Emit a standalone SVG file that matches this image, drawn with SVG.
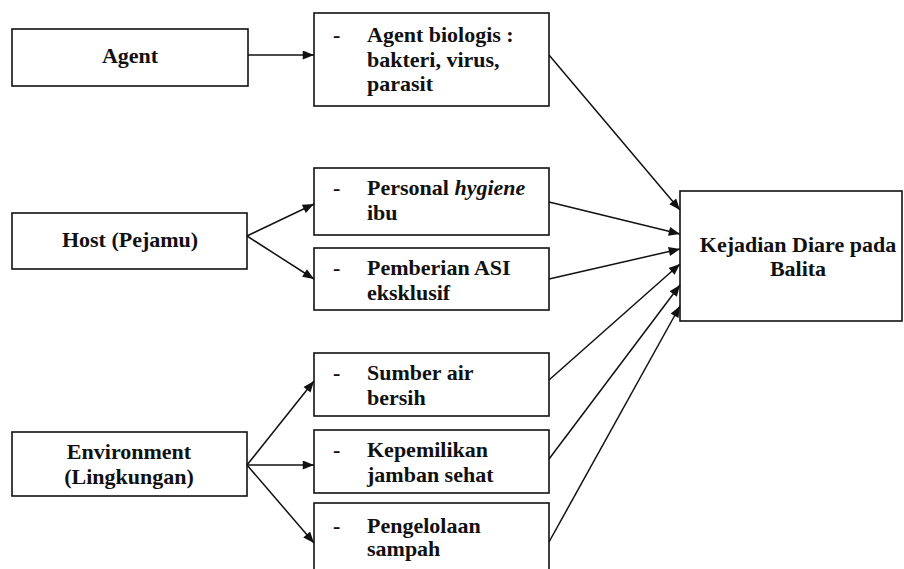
<svg xmlns="http://www.w3.org/2000/svg" width="904" height="569" viewBox="0 0 904 569">
<style>
.box{fill:#fff;stroke:#111;stroke-width:1.6}
.t{font-family:"Liberation Serif","Times New Roman",serif;font-weight:bold;font-size:22px;fill:#111}
.c{text-anchor:middle}
.ln{stroke:#111;stroke-width:1.5;fill:none;marker-end:url(#ah)}
</style>
<defs>
<marker id="ah" viewBox="0 0 10 8" refX="10" refY="4" markerWidth="12" markerHeight="9" markerUnits="userSpaceOnUse" orient="auto">
<path d="M0,0 L10,4 L0,8 Z" fill="#111"/>
</marker>
</defs>
<rect width="904" height="569" fill="#fff"/>
<g id="agent">
<rect class="box" x="12" y="29" width="236" height="57"/>
<text class="t c" x="130" y="63">Agent</text>
</g>
<g id="host">
<rect class="box" x="12" y="213" width="235" height="56"/>
<text class="t c" x="130" y="247">Host (Pejamu)</text>
</g>
<g id="environment">
<rect class="box" x="12" y="432" width="235" height="64"/>
<text class="t c" x="129" y="459">Environment</text>
<text class="t c" x="129" y="484">(Lingkungan)</text>
</g>
<g id="agent-biologis">
<rect class="box" x="314" y="13" width="235" height="93"/>
<text class="t" x="333" y="42">-</text>
<text class="t" x="367" y="42">Agent biologis :</text>
<text class="t" x="367" y="67">bakteri, virus,</text>
<text class="t" x="367" y="91">parasit</text>
</g>
<g id="personal-hygiene">
<rect class="box" x="314" y="168" width="235" height="67"/>
<text class="t" x="333" y="195">-</text>
<text class="t" x="367" y="195">Personal <tspan font-style="italic">hygiene</tspan></text>
<text class="t" x="367" y="220">ibu</text>
</g>
<g id="pemberian-asi">
<rect class="box" x="314" y="248" width="235" height="62"/>
<text class="t" x="333" y="275">-</text>
<text class="t" x="367" y="275">Pemberian ASI</text>
<text class="t" x="367" y="300">eksklusif</text>
</g>
<g id="sumber-air">
<rect class="box" x="314" y="353" width="235" height="63"/>
<text class="t" x="333" y="380">-</text>
<text class="t" x="367" y="380">Sumber air</text>
<text class="t" x="367" y="405">bersih</text>
</g>
<g id="kepemilikan-jamban">
<rect class="box" x="314" y="430" width="235" height="63"/>
<text class="t" x="333" y="457">-</text>
<text class="t" x="367" y="457">Kepemilikan</text>
<text class="t" x="367" y="482">jamban sehat</text>
</g>
<g id="pengelolaan-sampah">
<rect class="box" x="314" y="503" width="235" height="80"/>
<text class="t" x="333" y="533">-</text>
<text class="t" x="367" y="533">Pengelolaan</text>
<text class="t" x="367" y="556">sampah</text>
</g>
<g id="kejadian-diare">
<rect class="box" x="680" y="191" width="222" height="130"/>
<text class="t c" x="798" y="252">Kejadian Diare pada</text>
<text class="t c" x="798" y="276">Balita</text>
</g>
<g id="connectors">
<line class="ln" x1="248" y1="55" x2="314" y2="55"/>
<line class="ln" x1="247" y1="236" x2="314" y2="204"/>
<line class="ln" x1="247" y1="236" x2="314" y2="279"/>
<line class="ln" x1="247" y1="465" x2="314" y2="381"/>
<line class="ln" x1="247" y1="465" x2="314" y2="465"/>
<line class="ln" x1="247" y1="465" x2="314" y2="543"/>
<line class="ln" x1="549" y1="55" x2="680" y2="210"/>
<line class="ln" x1="549" y1="202" x2="680" y2="234"/>
<line class="ln" x1="549" y1="279" x2="680" y2="249"/>
<line class="ln" x1="549" y1="380" x2="680" y2="264"/>
<line class="ln" x1="549" y1="459" x2="680" y2="285"/>
<line class="ln" x1="549" y1="542" x2="680" y2="306"/>
</g>
</svg>
